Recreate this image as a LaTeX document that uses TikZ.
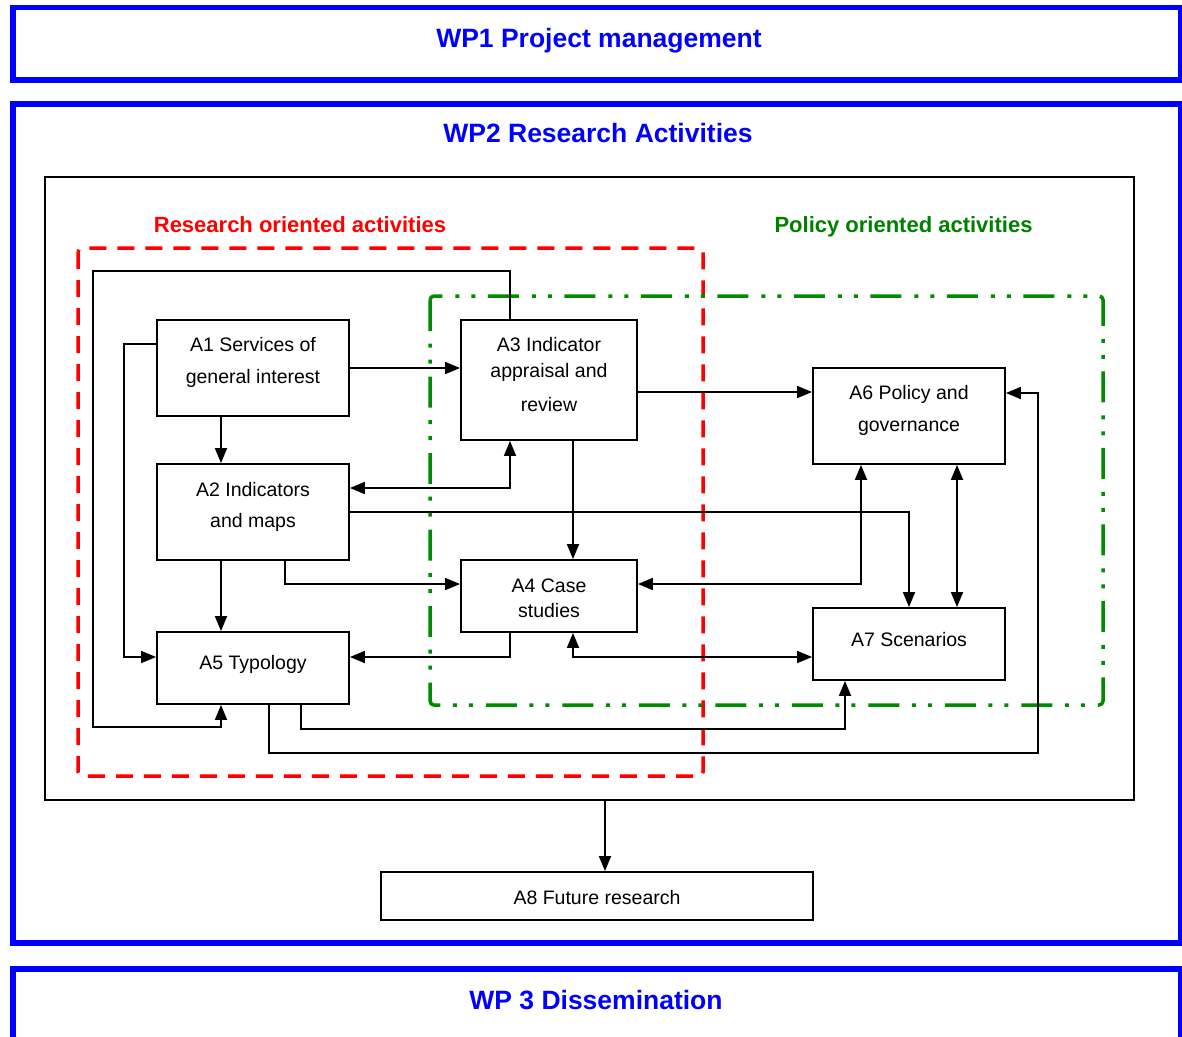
\documentclass[tikz,border=0pt]{standalone}
\usepackage{fontspec}
\setmainfont{Liberation Sans}
\usetikzlibrary{arrows.meta}
\definecolor{wpblue}{RGB}{0,0,255}
\definecolor{rred}{RGB}{255,0,0}
\definecolor{pgreen}{RGB}{0,128,0}
\definecolor{pgline}{RGB}{0,140,0}
\begin{document}
\begin{tikzpicture}[x=1pt,y=-1pt,
  wp/.style={draw=wpblue, line width=5.5pt},
  wptitle/.style={text=wpblue, font=\fontsize{26.5}{30}\selectfont\bfseries, anchor=base, inner sep=0pt},
  grp/.style={font=\fontsize{22}{26}\selectfont\bfseries, anchor=base, inner sep=0pt},
  box/.style={draw, line width=1.8pt, fill=white, rectangle, inner sep=0pt},
  txt/.style={font=\fontsize{19.5}{22}\selectfont, anchor=base, inner sep=0pt},
  arr/.style={line width=1.7pt, -{Triangle[length=15pt,width=12pt]}},
  darr/.style={line width=1.7pt, {Triangle[length=15pt,width=12pt]}-{Triangle[length=15pt,width=12pt]}},
  redzone/.style={draw=rred, line width=3.5pt, dash pattern=on 17pt off 11pt, rounded corners=4pt},
  greenzone/.style={draw=pgline, line width=3.5pt, dash pattern=on 31pt off 12.5pt on 4pt off 12pt on 4pt off 13pt, rounded corners=4pt}
]
\useasboundingbox (0,0) rectangle (1182,1036);
\clip (0,0) rectangle (1182,1036);
\fill[white] (0,0) rectangle (1182,1036);

% work packages
\draw[wp] (13,7.5) rectangle (1181,80);
\draw[wp] (13,104) rectangle (1181,943);
\draw[wp] (13,969) rectangle (1181,1080);
\node[wptitle] (t1) at (599,47) {WP1 Project management};
\node[wptitle] (t2) at (598,142.5) {WP2 Research Activities};
\node[wptitle] (t3) at (596,1009) {WP 3 Dissemination};

% inner frame
\node[draw, line width=1.7pt, minimum width=1089pt, minimum height=623pt, inner sep=0pt] (inner) at (589.5,488.5) {};

% zones
\node[grp, text=rred] (ro) at (300,232) {Research oriented activities};
\node[grp, text=pgreen] (po) at (903.5,232) {Policy oriented activities};
\path[redzone] (78,248) rectangle (703,776);
\path[greenzone] (430,296) rectangle (1103,705);

% boxes
\node[box, minimum width=192pt, minimum height=96pt] (A1) at (253,368) {};
\node[box, minimum width=176pt, minimum height=120pt] (A3) at (549,380) {};
\node[box, minimum width=192pt, minimum height=96pt] (A2) at (253,512) {};
\node[box, minimum width=176pt, minimum height=72pt] (A4) at (549,596) {};
\node[box, minimum width=192pt, minimum height=72pt] (A5) at (253,668) {};
\node[box, minimum width=192pt, minimum height=96pt] (A6) at (909,416) {};
\node[box, minimum width=192pt, minimum height=72pt] (A7) at (909,644) {};
\node[box, minimum width=432pt, minimum height=48pt] (A8) at (597,896) {};

% connectors
\draw[arr] (A1.east) -- (A1.east -| A3.west);
\draw[arr] ([xshift=-32pt]A1.south) -- ([xshift=-32pt]A2.north);
\draw[arr] ([xshift=-32pt]A2.south) -- ([xshift=-32pt]A5.north);
\draw[arr] ([yshift=24pt]A1.west) -- ++(-32,0) |- ([yshift=11pt]A5.west);
\draw[arr] ([xshift=-39pt]A3.north) -- ++(0,-48) -| ++(-417,456) -| ([xshift=-32pt]A5.south);
\draw[darr] ([yshift=24pt]A2.east) -| ([xshift=-39pt]A3.south);
\draw[arr] (A2.east) -| (A7.north);
\draw[arr] ([xshift=24pt]A3.south) -- ([xshift=24pt]A4.north);
\draw[arr] ([yshift=-12pt]A3.east) -- ([yshift=-12pt]A3.east -| A6.west);
\draw[arr] ([xshift=32pt]A2.south) |- ([yshift=12pt]A4.west);
\draw[arr] ([xshift=-39pt]A4.south) |- ([yshift=11pt]A5.east);
\draw[darr] ([xshift=24pt]A4.south) |- ([yshift=-13pt]A7.west);
\draw[darr] ([xshift=-48pt]A6.south) |- ([yshift=12pt]A4.east);
\draw[darr] ([xshift=48pt]A6.south) -- ([xshift=48pt]A7.north);
\draw[arr] ([xshift=48pt]A5.south) -- ++(0,24) -| ([xshift=-64pt]A7.south);
\draw[arr] ([xshift=16pt]A5.south) -- ++(0,48) -| ([xshift=32pt,yshift=23pt]A6.east) -- ([yshift=23pt]A6.east);
\draw[arr] ([xshift=8pt]A8.north |- inner.south) -- ([xshift=8pt]A8.north);

% texts
\node[txt] (A1a) at (253,351) {A1 Services of};
\node[txt] (A1b) at (253,383) {general interest};
\node[txt] (A3a) at (549,351) {A3 Indicator};
\node[txt] (A3b) at (549,377) {appraisal and};
\node[txt] (A3c) at (549,411) {review};
\node[txt] (A2a) at (253,496) {A2 Indicators};
\node[txt] (A2b) at (253,527) {and maps};
\node[txt] (A4a) at (549,592) {A4 Case};
\node[txt] (A4b) at (549,617) {studies};
\node[txt] (A5a) at (253,669) {A5 Typology};
\node[txt] (A6a) at (909,399) {A6 Policy and};
\node[txt] (A6b) at (909,431) {governance};
\node[txt] (A7a) at (909,646) {A7 Scenarios};
\node[txt] (A8a) at (597,904) {A8 Future research};
\end{tikzpicture}
\end{document}
